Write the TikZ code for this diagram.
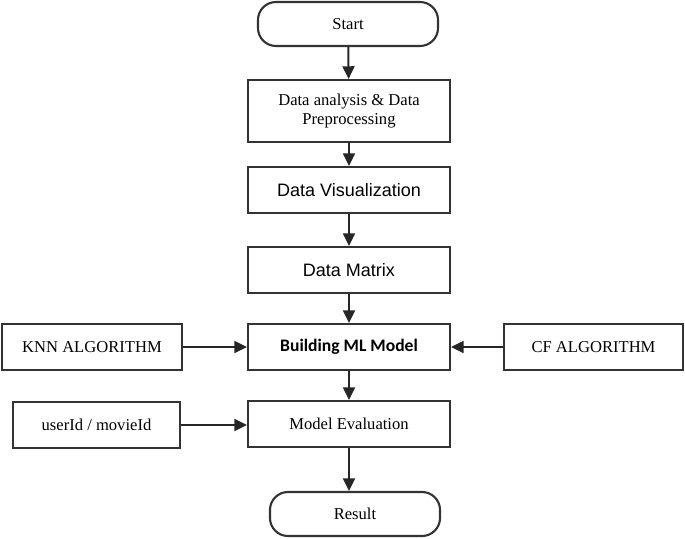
\documentclass[tikz,border=0pt]{standalone}
\usepackage{fontspec}
\setmainfont{Liberation Serif}
\setsansfont{Liberation Sans}
\newfontfamily\califont{Carlito}
\usetikzlibrary{arrows.meta}
\begin{document}
\begin{tikzpicture}[x=0.025cm,y=-0.025cm,
        box/.style={draw=black!80,line width=1.5pt,fill=white,inner sep=0pt,
            minimum width=5.05cm,minimum height=1.15cm,align=center,
            font=\fontsize{11.8}{14}\selectfont},
        term/.style={box,rounded corners=0.45cm,minimum height=1.1cm},
        flow/.style={draw=black!85,line width=1.4pt,
            -{Triangle[length=9pt,width=8.5pt]}}]
        \useasboundingbox (0,0) rectangle (685,539);
        \node[term,minimum width=4.5cm] (a1) at (348,24) {Start};
        \node[box,minimum height=1.55cm] (a2) at (349,111) {Data analysis \& Data\\Preprocessing};
        \node[box,font=\sffamily\fontsize{12.8}{15}\selectfont] (a3) at (349,190) {Data Visualization};
        \node[box,font=\sffamily\fontsize{12.8}{15}\selectfont] (a4) at (349,270) {Data Matrix};
        \node[box,font=\califont\bfseries\fontsize{12.5}{15}\selectfont] (a5) at (349,347) {Building ML Model};
        \node[box] (a6) at (349,424) {Model Evaluation};
        \node[term,minimum width=4.25cm] (a7) at (355,514) {Result};
        \node[box,minimum width=4.5cm] (b1) at (92,347) {KNN ALGORITHM};
        \node[box,minimum width=4.175cm] (b2) at (96.5,425) {userId / movieId};
        \node[box,minimum width=4.475cm] (c1) at (593.5,347) {CF ALGORITHM};
        \draw[flow] (a1) -- (a2);
        \draw[flow] (a2) -- (a3);
        \draw[flow] (a3) -- (a4);
        \draw[flow] (a4) -- (a5);
        \draw[flow] (a5) -- (a6);
        \draw[flow] (a6.south) -- (a6.south |- a7.north);
        \draw[flow] (b1) -- (a5);
        \draw[flow] (c1) -- (a5);
        \draw[flow] (b2) -- (b2 -| a6.west);
    \end{tikzpicture}
\end{document}
